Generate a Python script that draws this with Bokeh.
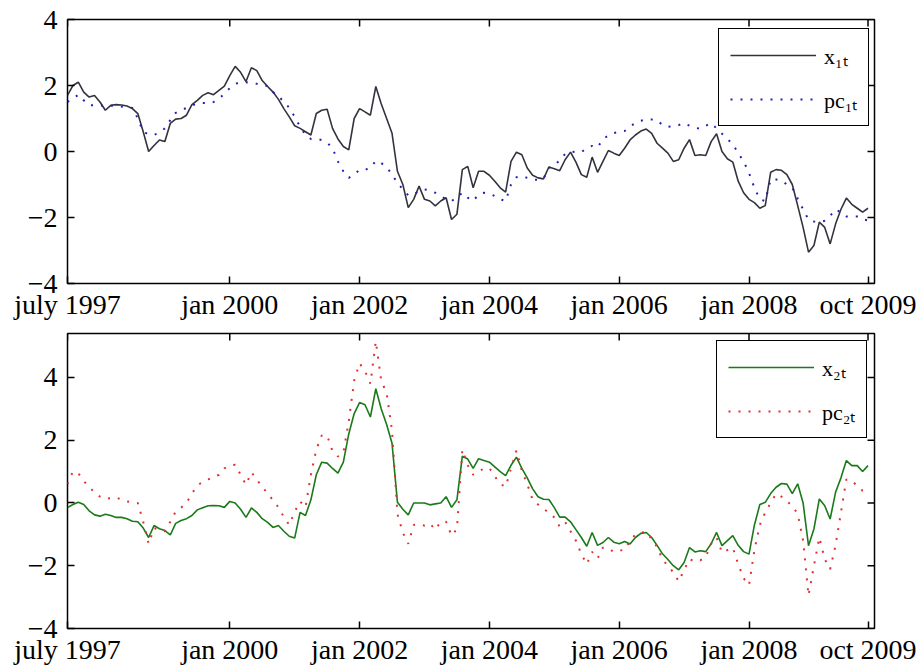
import math
from bokeh.plotting import figure
from bokeh.models import FixedTicker, Legend, LegendItem, Range1d, ColumnDataSource
from bokeh.layouts import column
from bokeh.embed import file_html
from bokeh.resources import INLINE

# month index: 0 = July 1997
months = list(range(149))
tick_pos = [0, 30, 54, 78, 102, 126, 148]
tick_labels = ["july 1997", "jan 2000", "jan 2002", "jan 2004", "jan 2006", "jan 2008", "oct 2009"]
y_ticks = [-4, -2, 0, 2, 4]
x_end = 149.2

x1t = [1.7, 2.0, 2.1, 1.8, 1.65, 1.7, 1.5, 1.25, 1.4, 1.42,
       1.41, 1.38, 1.3, 1.15, 0.6, 0.0, 0.18, 0.35, 0.3, 0.85,
       0.98, 1.0, 1.1, 1.42, 1.55, 1.7, 1.78, 1.72, 1.85, 1.98,
       2.3, 2.58, 2.4, 2.12, 2.54, 2.45, 2.15, 1.97, 1.8, 1.58,
       1.3, 1.05, 0.78, 0.7, 0.6, 0.5, 1.15, 1.25, 1.28, 0.7,
       0.38, 0.15, 0.05, 1.0, 1.3, 1.2, 1.1, 1.97, 1.45, 1.0,
       0.55, -0.6, -1.0, -1.7, -1.45, -1.05, -1.45, -1.5, -1.65, -1.5,
       -1.4, -2.06, -1.9, -0.55, -0.45, -1.1, -0.6, -0.6, -0.72, -0.9,
       -1.1, -1.23, -0.3, -0.02, -0.1, -0.5, -0.72, -0.8, -0.83, -0.47,
       -0.52, -0.58, -0.25, -0.02, -0.32, -0.7, -0.78, -0.17, -0.63, -0.3,
       0.03, -0.05, -0.12, 0.1, 0.35, 0.5, 0.62, 0.68, 0.55, 0.25,
       0.1, -0.05, -0.3, -0.25, 0.1, 0.36, -0.12, -0.1, -0.12, 0.3,
       0.54, 0.0, -0.22, -0.32, -0.9, -1.25, -1.45, -1.55, -1.72, -1.64,
       -0.63, -0.55, -0.57, -0.7, -1.0, -1.64, -2.3, -3.05, -2.85, -2.14,
       -2.3, -2.8, -2.2, -1.75, -1.41, -1.6, -1.72, -1.84, -1.72]

pc1t = [1.5, 1.6, 1.72, 1.55, 1.4, 1.4, 1.4, 1.38, 1.39, 1.38,
        1.36, 1.35, 1.32, 1.0, 0.6, 0.52, 0.5, 0.58, 0.7, 0.95,
        1.17, 1.25, 1.32, 1.4, 1.45, 1.47, 1.47, 1.5, 1.6, 1.75,
        1.92, 2.05, 2.1, 2.1, 2.08, 2.05, 2.02, 1.98, 1.8, 1.68,
        1.5, 1.33, 1.05, 0.75, 0.5, 0.38, 0.38, 0.35, 0.27, 0.1,
        -0.3, -0.6, -0.8, -0.7, -0.55, -0.55, -0.5, -0.28, -0.35, -0.47,
        -0.7, -0.95, -1.15, -1.33, -1.3, -1.2, -1.15, -1.18, -1.25, -1.35,
        -1.45, -1.5, -1.4, -1.25, -1.4, -1.5, -1.3, -1.25, -1.28, -1.35,
        -1.45, -1.5, -1.0, -0.78, -0.75, -0.8, -0.85, -0.86, -0.82, -0.5,
        -0.4, -0.28, -0.07, -0.02, 0.0, -0.02, 0.1, 0.17, 0.12, 0.38,
        0.48, 0.56, 0.6, 0.62, 0.75, 0.87, 0.93, 0.97, 0.97, 0.95,
        0.8, 0.75, 0.76, 0.8, 0.86, 0.78, 0.72, 0.69, 0.78, 0.86,
        0.7, 0.54, 0.38, 0.22, -0.05, -0.3, -0.65, -1.1, -1.45, -1.5,
        -0.85, -0.85, -0.88, -1.0, -1.1, -1.43, -1.75, -2.07, -2.12, -2.14,
        -2.1, -1.95, -1.75, -1.85, -1.97, -1.97, -1.97, -2.05, -2.09]

x2t = [-0.15, -0.05, 0.02, -0.05, -0.25, -0.38, -0.42, -0.36, -0.4, -0.46,
       -0.46, -0.5, -0.58, -0.6, -0.8, -1.1, -0.72, -0.82, -0.88, -1.02,
       -0.65, -0.56, -0.5, -0.4, -0.22, -0.15, -0.09, -0.08, -0.09, -0.14,
       0.05, 0.0, -0.2, -0.46, -0.16, -0.3, -0.5, -0.62, -0.78, -0.72,
       -0.9, -1.06, -1.12, -0.3, -0.4, 0.1, 0.9, 1.3, 1.27, 1.1,
       0.95, 1.3, 2.2, 2.85, 3.2, 3.13, 2.74, 3.64, 3.0, 2.5,
       1.9, 0.02, -0.2, -0.38, 0.0, 0.0, 0.0, -0.06, -0.03, 0.0,
       0.2, -0.14, 0.1, 1.49, 1.4, 1.1, 1.41, 1.35, 1.3, 1.15,
       1.0, 0.87, 1.2, 1.46, 1.1, 0.8, 0.45, 0.2, 0.12, 0.11,
       -0.15, -0.45, -0.45, -0.6, -0.85, -1.1, -1.38, -0.94, -1.35, -1.26,
       -1.1, -1.25, -1.3, -1.23, -1.31, -1.1, -0.97, -0.94, -1.1, -1.35,
       -1.62, -1.8, -2.0, -2.13, -1.9, -1.42, -1.56, -1.52, -1.55, -1.3,
       -0.94, -1.36, -1.2, -1.04, -1.35, -1.55, -1.63, -0.7, -0.05, 0.02,
       0.3, 0.5, 0.62, 0.6, 0.3, 0.61, 0.0, -1.36, -0.83, 0.13,
       -0.09, -0.51, 0.34, 0.8, 1.35, 1.19, 1.19, 1.0, 1.19]

pc2t = [0.6, 1.0, 0.95, 0.7, 0.5, 0.35, 0.2, 0.13, 0.15, 0.18,
        0.1, 0.05, 0.02, 0.0, -0.6, -1.3, -0.8, -0.85, -0.9, -0.6,
        -0.27, -0.15, 0.0, 0.3, 0.55, 0.68, 0.75, 0.82, 0.9, 1.1,
        1.2, 1.22, 0.9, 0.58, 0.98, 0.75, 0.5, 0.32, 0.08, -0.14,
        -0.45, -0.7, -0.28, 0.05, -0.14, 0.9, 1.7, 2.15, 2.15, 1.65,
        1.48, 1.6, 2.6, 3.9, 4.45, 4.2, 3.8, 5.15, 3.9, 3.5,
        2.3, -0.35, -0.95, -1.3, -0.7, -0.68, -0.72, -0.65, -0.85, -0.6,
        -0.6, -1.04, -0.83, 1.7, 1.2, 0.9, 1.0, 1.1, 1.11, 0.85,
        0.6, 0.52, 1.1, 1.67, 1.03, 0.6, 0.1, -0.05, -0.19, -0.3,
        -0.46, -0.75, -0.6, -0.9, -1.2, -1.63, -1.95, -1.56, -1.77, -1.42,
        -1.45, -1.56, -1.52, -1.49, -1.2, -1.0, -0.95, -0.92, -1.15, -1.4,
        -1.8, -2.0, -2.21, -2.5, -2.13, -1.79, -1.87, -1.83, -1.72, -1.3,
        -1.1, -1.58, -1.5, -1.42, -1.95, -2.4, -2.62, -1.5, -0.7, -0.3,
        0.0, 0.29, 0.2, 0.05, -0.09, -0.35, -1.2, -2.95, -2.0, -1.1,
        -1.79, -2.11, -1.35, -0.3, 0.75, 0.71, 0.55, 0.39, 0.36]

FONT = "Liberation Serif"


def make_panel(line_vals, dot_vals, line_color, dot_color, labels, y_lo, y_hi,
               fh, mbl, mbr, mbt, legend_loc):
    src = ColumnDataSource(dict(m=months, a=line_vals, b=dot_vals))
    p = figure(output_backend="svg", toolbar_location=None,
               x_range=Range1d(0, x_end), y_range=Range1d(y_lo, y_hi),
               frame_width=807, frame_height=fh,
               min_border_left=mbl, min_border_right=mbr,
               min_border_top=mbt, min_border_bottom=0,
               background_fill_color="white", border_fill_color="white",
               outline_line_color="black", outline_line_width=1.5)
    p.grid.visible = False

    xt = FixedTicker(ticks=tick_pos)
    yt = FixedTicker(ticks=y_ticks)
    p.xaxis.ticker = xt
    p.xaxis.major_label_overrides = {t: l for t, l in zip(tick_pos, tick_labels)}
    p.yaxis.ticker = yt
    for ax in list(p.xaxis) + list(p.yaxis):
        ax.axis_line_color = None
        ax.major_tick_in = 7
        ax.major_tick_out = 0
        ax.major_tick_line_width = 1.5
        ax.major_tick_line_color = "black"
        ax.minor_tick_line_color = None
        ax.major_label_text_font = FONT
        ax.major_label_text_font_size = "28px"
        ax.major_label_text_color = "black"
    p.xaxis.major_label_standoff = 5
    p.yaxis.major_label_standoff = 10

    # inward ticks on the top and right edges of the box
    p.ray(x=tick_pos, y=[y_hi] * len(tick_pos), length=7, length_units="screen",
          angle=-math.pi / 2, line_color="black", line_width=1.5)
    p.ray(x=[x_end] * len(y_ticks), y=y_ticks, length=7, length_units="screen",
          angle=math.pi, line_color="black", line_width=1.5)

    r1 = p.line("m", "a", source=src, line_color=line_color, line_width=1.6)
    r2 = p.line("m", "b", source=src, line_color=dot_color, line_width=2,
                line_dash="2 8")

    leg = Legend(items=[LegendItem(label=labels[0], renderers=[r1]),
                        LegendItem(label=labels[1], renderers=[r2])],
                 location=legend_loc, margin=0, padding=11, spacing=14,
                 glyph_width=86, glyph_height=24, label_height=24, label_standoff=8,
                 label_text_font=FONT, label_text_font_size="22px",
                 label_text_color="black",
                 border_line_color="black", border_line_width=1.6,
                 border_line_alpha=1.0,
                 background_fill_color="white", background_fill_alpha=1.0)
    p.add_layout(leg)
    return p


p1 = make_panel(x1t, pc1t, "#33333f", "#2020b8", ["x\u2081\u209c", "pc\u2081\u209c"],
                -4, 4, 264, 67, 44, 19, (651, 157))
p2 = make_panel(x2t, pc2t, "#1a7a1a", "#e03030", ["x\u2082\u209c", "pc\u2082\u209c"],
                -4, 5.4, 295, 65, 46, 11, (649, 190))

layout = column(p1, p2)
open("out.html", "w").write(file_html(layout, INLINE))
